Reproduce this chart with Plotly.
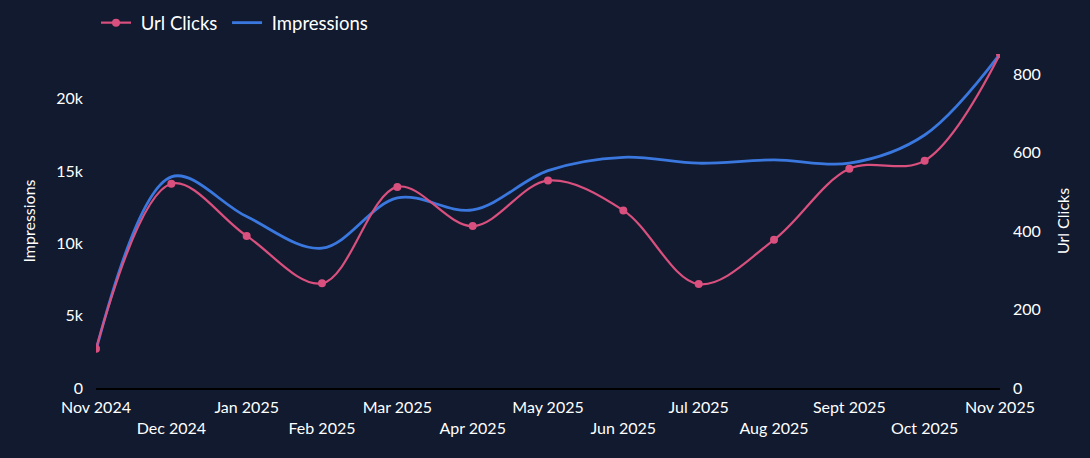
import plotly.graph_objects as go

months = ["Nov 2024", "Dec 2024", "Jan 2025", "Feb 2025", "Mar 2025", "Apr 2025",
          "May 2025", "Jun 2025", "Jul 2025", "Aug 2025", "Sept 2025", "Oct 2025", "Nov 2025"]
url_clicks = [100, 521, 388, 267, 513, 413, 529, 453, 265, 378, 559, 580, 852]
impressions = [2600, 14600, 11850, 9670, 13140, 12310, 15030, 15950, 15540, 15770, 15540, 17490, 23090]

tick_text = [m if i % 2 == 0 else "<br>" + m for i, m in enumerate(months)]

BG = "#111a2e"
PINK = "#d9507f"
BLUE = "#3a78e0"
FONT = "Lato"

fig = go.Figure()
fig.add_trace(go.Scatter(
    x=months, y=url_clicks, name=" Url Clicks ", yaxis="y2",
    mode="lines+markers", line=dict(color=PINK, width=2.2, shape="spline", smoothing=1),
    marker=dict(color=PINK, size=8),
))
fig.add_trace(go.Scatter(
    x=months, y=impressions, name=" Impressions", yaxis="y",
    mode="lines", line=dict(color=BLUE, width=2.8, shape="spline", smoothing=1),
))

fig.update_layout(
    width=1090, height=458,
    paper_bgcolor=BG, plot_bgcolor=BG,
    font=dict(family=FONT, color="white", size=16),
    margin=dict(l=96, r=90, t=54, b=70),
    showlegend=True,
    legend=dict(orientation="h", x=0, xanchor="left", yref="container", y=0.991, yanchor="top",
                font=dict(size=18.5), bgcolor="rgba(0,0,0,0)", itemwidth=30,
                tracegroupgap=0),
    xaxis=dict(
        type="category", range=[0, 12], tickmode="array", tickvals=months, ticktext=tick_text,
        showgrid=False, zeroline=False, showline=True, linecolor="#000000", linewidth=1.5,
        ticks="", tickfont=dict(size=16), tickangle=0, ticklabelstandoff=4,
    ),
    yaxis=dict(
        title=dict(text="Impressions", font=dict(size=16), standoff=16),
        range=[0, 23090], tickvals=[0, 5000, 10000, 15000, 20000],
        ticktext=["0", "5k", "10k", "15k", "20k"], tickfont=dict(size=16),
        showgrid=False, zeroline=False, showline=False, ticks="", ticklabelstandoff=12,
    ),
    yaxis2=dict(
        title=dict(text="Url Clicks", font=dict(size=16), standoff=17),
        overlaying="y", side="right", range=[0, 852], tickvals=[0, 200, 400, 600, 800],
        tickfont=dict(size=16),
        showgrid=False, zeroline=False, showline=False, ticks="", ticklabelstandoff=12,
    ),
)

fig.write_html("out.html")
